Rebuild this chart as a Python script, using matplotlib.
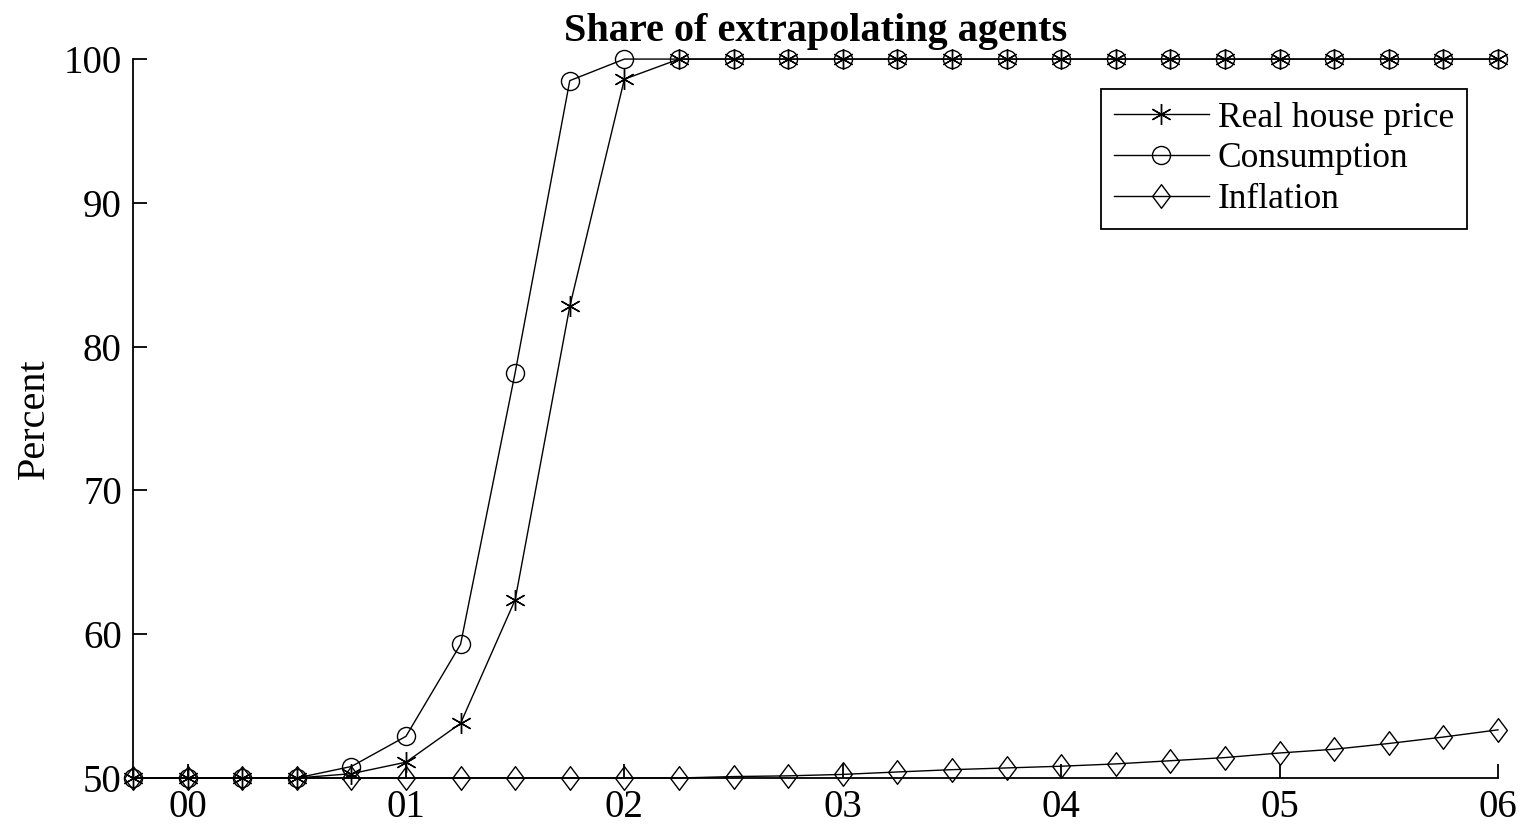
import numpy as np
import matplotlib
matplotlib.use("Agg")
from matplotlib import pyplot as plt
from matplotlib.path import Path

plt.rcParams['font.family'] = ['Liberation Serif', 'DejaVu Serif']

# quarterly dates, 1999Q4 .. 2006Q1
quarters = [1999.75 + 0.25 * i for i in range(26)]

house_price = [50, 50, 50, 50, 50.3, 51.1, 53.8, 62.4, 82.8, 98.6,
               100, 100, 100, 100, 100, 100, 100, 100, 100, 100,
               100, 100, 100, 100, 100, 100]
consumption = [50, 50, 50, 50, 50.8, 52.9, 59.3, 78.2, 98.5, 100,
               100, 100, 100, 100, 100, 100, 100, 100, 100, 100,
               100, 100, 100, 100, 100, 100]
inflation = [50, 50, 50, 50, 50, 50, 50, 50, 50, 50,
             50.0, 50.1, 50.15, 50.25, 50.42, 50.58, 50.7, 50.82, 50.98, 51.2,
             51.42, 51.74, 52.0, 52.4, 52.85, 53.35]

year_ticks = [2000, 2001, 2002, 2003, 2004, 2005, 2006]
year_labels = ['00', '01', '02', '03', '04', '05', '06']
y_ticks = [50, 60, 70, 80, 90, 100]

# MATLAB-like open diamond, a bit narrower than tall
diamond = Path([(0, 1), (0.75, 0), (0, -1), (-0.75, 0), (0, 1)],
               [Path.MOVETO, Path.LINETO, Path.LINETO, Path.LINETO, Path.CLOSEPOLY])

fig = plt.figure(figsize=(15.23, 8.32), dpi=100)
ax = fig.add_axes([0.0873, 0.0649, 0.8963, 0.8641])

style = dict(color='black', lw=1.0, mec='black', mfc='none', mew=1.0, clip_on=False)
ax.plot(quarters, house_price, marker=(6, 2, 0), ms=15, label='Real house price', **style)
ax.plot(quarters, consumption, marker='o', ms=13, label='Consumption', **style)
ax.plot(quarters, inflation, marker=diamond, ms=17, label='Inflation', **style)

ax.set_xlim(1999.75, 2006)
ax.set_ylim(50, 100)
ax.set_xticks(year_ticks)
ax.set_xticklabels(year_labels)
ax.set_yticks(y_ticks)

for side in ['top', 'right']:
    ax.spines[side].set_visible(False)
for side in ['left', 'bottom']:
    ax.spines[side].set_linewidth(1.3)

ax.tick_params(axis='both', direction='in', length=10, width=1.3, labelsize=28, pad=8)
ax.set_ylabel('Percent', fontsize=29, labelpad=8)
ax.set_title('Share of extrapolating agents', fontsize=29, fontweight='bold', pad=13)

leg = ax.legend(loc='upper right', bbox_to_anchor=(0.977, 0.958), borderaxespad=0,
                fontsize=25.5, handlelength=2.7, fancybox=False, framealpha=1,
                edgecolor='black', borderpad=0.35, labelspacing=0.22,
                handletextpad=0.25)
leg.get_frame().set_linewidth(1.3)

fig.savefig('out.png', dpi=100)
